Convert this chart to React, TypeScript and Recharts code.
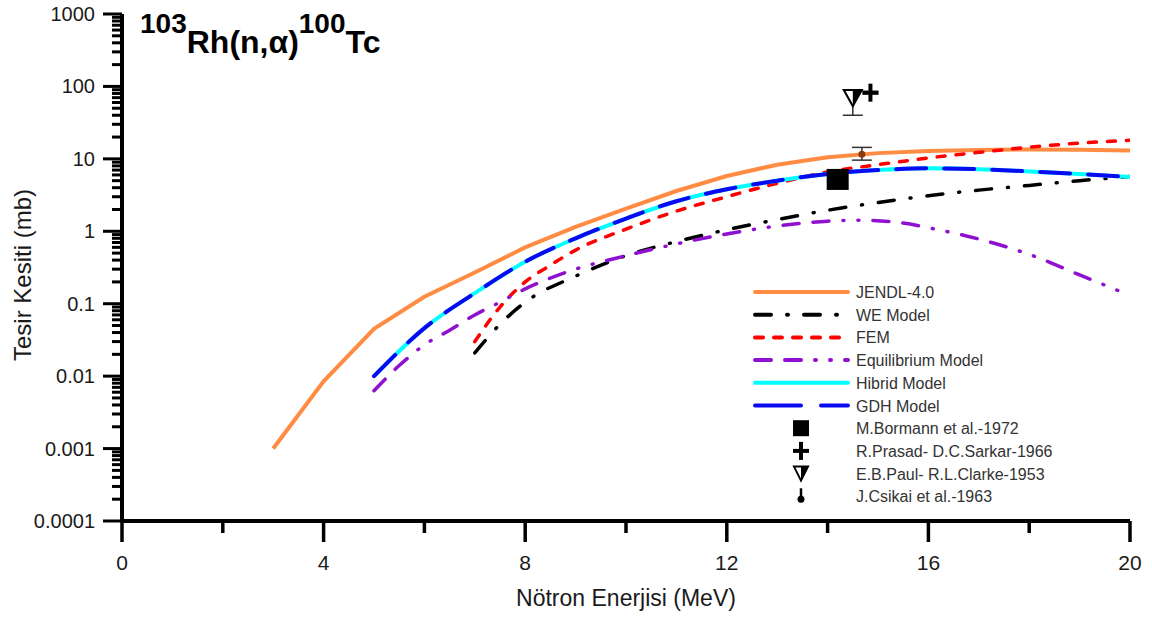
import React from "react";
import { ComposedChart, Line, Scatter, XAxis, YAxis, ErrorBar, Legend } from "recharts";

// energies (MeV) and cross sections (mb)
const jendlE = [3, 4, 5, 6, 7, 8, 9, 10, 11, 12, 13, 14, 15, 16, 17, 18, 19, 20];
const jendlV = [0.001, 0.0085, 0.045, 0.125, 0.27, 0.6, 1.15, 2.05, 3.6, 5.8, 8.3, 10.5, 12, 12.8, 13.3, 13.5, 13.4, 13.0];

const weE = [7, 7.5, 8, 9, 10, 11, 12, 13, 14, 15, 16, 17, 18, 19, 20];
const weV = [0.021, 0.052, 0.105, 0.24, 0.46, 0.72, 1.05, 1.45, 1.95, 2.5, 3.1, 3.7, 4.3, 5.0, 5.7];

const femE = [7, 7.5, 8, 8.5, 9, 10, 11, 12, 13, 14, 15, 16, 17, 18, 19, 20];
const femV = [0.03, 0.09, 0.2, 0.34, 0.55, 1.07, 1.9, 3.0, 4.6, 6.6, 8.3, 10.3, 12.3, 14.5, 16.5, 18];

const eqE = [5, 5.5, 6, 6.5, 7, 7.5, 8, 9, 10, 11, 12, 13, 14, 14.7, 15.5, 16, 17, 18, 19, 20];
const eqV = [0.0063, 0.014, 0.027, 0.043, 0.07, 0.105, 0.16, 0.3, 0.46, 0.67, 0.92, 1.18, 1.38, 1.42, 1.3, 1.12, 0.78, 0.48, 0.25, 0.13];

const hibE = [5, 6, 7, 8, 9, 10, 11, 12, 13, 14, 15, 16, 17, 18, 19, 20];
const hibV = [0.01, 0.046, 0.14, 0.38, 0.8, 1.5, 2.6, 3.8, 5.0, 6.2, 7.0, 7.4, 7.2, 6.7, 6.2, 5.6];

const gdhE = [5, 6, 7, 8, 9, 10, 11, 12, 13, 14, 15, 16, 17, 18, 19, 20];
const gdhV = [0.01, 0.046, 0.14, 0.38, 0.8, 1.5, 2.6, 3.8, 5.0, 6.2, 7.0, 7.4, 7.2, 6.7, 6.2, 5.6];

// experimental points: [E, sigma, err-, err+]
const bormann = [[14.2, 5.2, 0, 0]];
const prasad = [[14.85, 82, 3, 3]];
const paul = [[14.5, 69, 29, 20]];
const csikai = [[14.68, 11.6, 2.0, 2.8]];

const xTicks = [0, 2, 4, 6, 8, 10, 12, 14, 16, 18, 20];
const yMajor = [0.0001, 0.001, 0.01, 0.1, 1, 10, 100, 1000];
const yLabels = ["0.0001", "0.001", "0.01", "0.1", "1", "10", "100", "1000"];
const yTicks: number[] = [];
yMajor.forEach((m, i) => {
  yTicks.push(m);
  if (i < yMajor.length - 1) for (let k = 2; k <= 9; k++) yTicks.push(m * k);
});

const toPts = (e: number[], v: number[]) => e.map((x, i) => ({ x, y: v[i] }));
const toExp = (rows: number[][]) => rows.map((r) => ({ x: r[0], y: r[1], err: [r[2], r[3]] }));

const FONT = "'Liberation Sans', Arial, sans-serif";

const XTick = (props: any) => {
  const { x, y, payload } = props;
  const major = payload.value % 4 === 0;
  return (
    <g>
      <line x1={x} x2={x} y1={y} y2={y + (major ? 21 : 12)} stroke="#000" strokeWidth={3.5} />
      {major && (
        <text x={x} y={y + 49} textAnchor="middle" fontSize={21} fontFamily={FONT} fill="#1a1a1a">
          {payload.value}
        </text>
      )}
    </g>
  );
};

const YTick = (props: any) => {
  const { x, y, payload } = props;
  const idx = yMajor.findIndex((m) => Math.abs(Math.log10(m) - Math.log10(payload.value)) < 1e-6);
  const major = idx >= 0;
  return (
    <g>
      <line x1={x} x2={x - (major ? 19 : 10)} y1={y} y2={y} stroke="#000" strokeWidth={3} />
      {major && (
        <text x={x - 27} y={y + 7} textAnchor="end" fontSize={20} fontFamily={FONT} fill="#1a1a1a">
          {yLabels[idx]}
        </text>
      )}
    </g>
  );
};

const Square = ({ cx, cy }: any) => <rect x={cx - 11} y={cy - 10.5} width={22} height={21} fill="#000" />;
const Plus = ({ cx, cy }: any) => (
  <g stroke="#000" strokeWidth={4}>
    <line x1={cx - 8} x2={cx + 8} y1={cy} y2={cy} />
    <line x1={cx} x2={cx} y1={cy - 9} y2={cy + 9} />
  </g>
);
const Tri = ({ cx, cy }: any) => (
  <g>
    <path d={`M${cx - 9},${cy - 8}L${cx + 9},${cy - 8}L${cx},${cy + 8}Z`} fill="#fff" stroke="#000" strokeWidth={2} />
    <path d={`M${cx},${cy - 8}L${cx + 9},${cy - 8}L${cx},${cy + 8}Z`} fill="#000" />
  </g>
);
const Dot = ({ cx, cy }: any) => <circle cx={cx} cy={cy} r={3.5} fill="#8a3c10" />;

const legendRows = [
  { name: "JENDL-4.0", kind: "line", color: "#FF8C42", dash: undefined },
  { name: "WE Model", kind: "line", color: "#000", dash: "16 16 1 16" },
  { name: "FEM", kind: "line", color: "#FF0000", dash: "8 11" },
  { name: "Equilibrium Model", kind: "line", color: "#9010D0", dash: "16 14 16 14 1 14 1 14" },
  { name: "Hibrid Model", kind: "line", color: "#00FFFF", dash: undefined },
  { name: "GDH Model", kind: "line", color: "#0A0AF0", dash: "46 20" },
  { name: "M.Bormann et al.-1972", kind: "square" },
  { name: "R.Prasad- D.C.Sarkar-1966", kind: "plus" },
  { name: "E.B.Paul- R.L.Clarke-1953", kind: "tri" },
  { name: "J.Csikai et al.-1963", kind: "dot" },
];

const LegendBox = () => (
  <svg width={360} height={232} style={{ display: "block" }}>
    {legendRows.map((r: any, i) => {
      const cy = 11 + i * 22.7;
      let mark: any = null;
      if (r.kind === "line")
        mark = (
          <line x1={2} x2={95} y1={cy} y2={cy} stroke={r.color} strokeWidth={4} strokeDasharray={r.dash} strokeLinecap="round" />
        );
      else if (r.kind === "square") mark = <rect x={40} y={cy - 8} width={16} height={16} fill="#000" />;
      else if (r.kind === "plus") mark = <Plus cx={48} cy={cy} />;
      else if (r.kind === "tri")
        mark = (
          <g>
            <path d={`M41,${cy - 7}L55,${cy - 7}L48,${cy + 7}Z`} fill="#fff" stroke="#000" strokeWidth={2} />
            <path d={`M48,${cy - 7}L55,${cy - 7}L48,${cy + 7}Z`} fill="#000" />
          </g>
        );
      else
        mark = (
          <g>
            <line x1={48} x2={48} y1={cy - 8} y2={cy + 2} stroke="#000" strokeWidth={2.5} />
            <circle cx={48} cy={cy + 3} r={3.5} fill="#000" />
          </g>
        );
      return (
        <g key={r.name}>
          {mark}
          <text x={103} y={cy + 6} fontSize={16} fontFamily={FONT} fill="#333">
            {r.name}
          </text>
        </g>
      );
    })}
  </svg>
);

export default function App() {
  return (
    <div style={{ position: "absolute", left: 0, top: 0, width: 1152, height: 619, background: "#fff" }}>
      <ComposedChart width={1152} height={619} margin={{ top: 14, right: 22, left: 0, bottom: 0 }}>
        <XAxis
          type="number"
          dataKey="x"
          domain={[0, 20]}
          ticks={xTicks}
          interval={0}
          allowDataOverflow
          height={98}
          tickSize={0}
          tickMargin={0}
          tickLine={false}
          tick={<XTick />}
          axisLine={{ stroke: "#000", strokeWidth: 4 }}
        />
        <YAxis
          type="number"
          dataKey="y"
          scale="log"
          domain={[0.0001, 1000]}
          ticks={yTicks}
          interval={0}
          allowDataOverflow
          width={122}
          tickSize={0}
          tickMargin={0}
          tickLine={false}
          tick={<YTick />}
          axisLine={{ stroke: "#000", strokeWidth: 4 }}
        />
        <Legend
          layout="vertical"
          align="center"
          verticalAlign="middle"
          content={() => <LegendBox />}
          wrapperStyle={{ left: 753, top: 281, width: 360, height: 232 }}
        />
        <Line data={toPts(jendlE, jendlV)} dataKey="y" type="linear" stroke="#FF8C42" strokeWidth={4} dot={false} isAnimationActive={false} />
        <Line data={toPts(weE, weV)} dataKey="y" type="monotone" stroke="#000" strokeWidth={3.5} strokeDasharray="16 16 1 16" strokeLinecap="round" dot={false} isAnimationActive={false} />
        <Line data={toPts(femE, femV)} dataKey="y" type="monotone" stroke="#FF0000" strokeWidth={3.5} strokeDasharray="8 11" strokeLinecap="round" dot={false} isAnimationActive={false} />
        <Line data={toPts(eqE, eqV)} dataKey="y" type="monotone" stroke="#9010D0" strokeWidth={3.5} strokeDasharray="16 14 16 14 1 14 1 14" strokeLinecap="round" dot={false} isAnimationActive={false} />
        <Line data={toPts(hibE, hibV)} dataKey="y" type="monotone" stroke="#00FFFF" strokeWidth={4} dot={false} isAnimationActive={false} />
        <Line data={toPts(gdhE, gdhV)} dataKey="y" type="monotone" stroke="#0A0AF0" strokeWidth={4} strokeDasharray="30 18" strokeLinecap="round" dot={false} isAnimationActive={false} />
        <Scatter data={toExp(bormann)} shape={<Square />} isAnimationActive={false} />
        <Scatter data={toExp(prasad)} shape={<Plus />} isAnimationActive={false}>
          <ErrorBar dataKey="err" direction="y" width={8} stroke="#333" strokeWidth={1.5} />
        </Scatter>
        <Scatter data={toExp(paul)} shape={<Tri />} isAnimationActive={false}>
          <ErrorBar dataKey="err" direction="y" width={10} stroke="#333" strokeWidth={1.5} />
        </Scatter>
        <Scatter data={toExp(csikai)} shape={<Dot />} isAnimationActive={false}>
          <ErrorBar dataKey="err" direction="y" width={10} stroke="#333" strokeWidth={1.5} />
        </Scatter>
      </ComposedChart>
      <svg width={1152} height={619} style={{ position: "absolute", left: 0, top: 0, pointerEvents: "none" }}>
        <text x={140} y={33} fontFamily={FONT} fontWeight="bold" fontSize={28} fill="#000">
          103
          <tspan y={53} fontSize={32}>Rh(n,α)</tspan>
          <tspan y={33} fontSize={28}>100</tspan>
          <tspan y={53} fontSize={32}>Tc</tspan>
        </text>
        <text x={626} y={606} textAnchor="middle" fontFamily={FONT} fontSize={23} fill="#1a1a1a">
          Nötron Enerjisi (MeV)
        </text>
        <text
          x={31}
          y={275}
          textAnchor="middle"
          transform="rotate(-90 31 275)"
          fontFamily={FONT}
          fontSize={24}
          fill="#1a1a1a"
        >
          Tesir Kesiti (mb)
        </text>
      </svg>
    </div>
  );
}
